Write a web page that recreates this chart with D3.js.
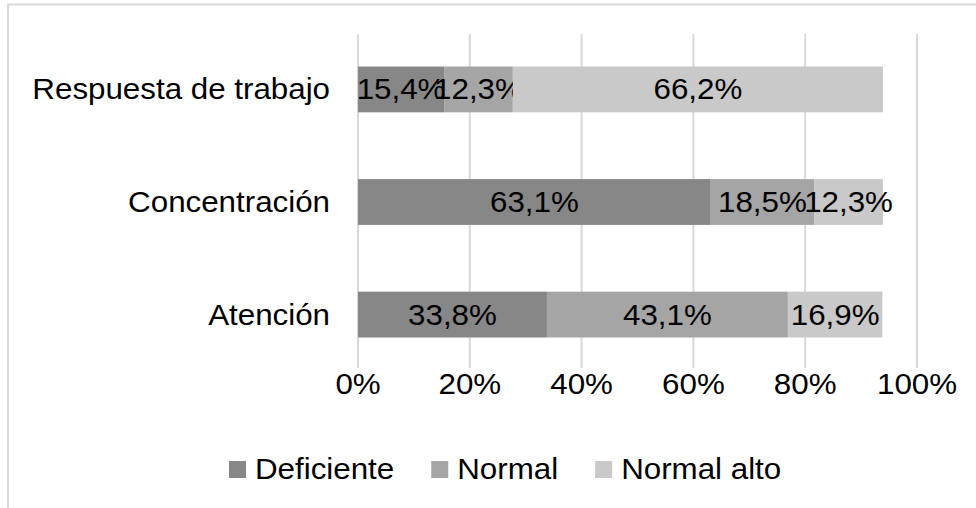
<!DOCTYPE html>
<html>
<head>
<meta charset="utf-8">
<script src="https://cdn.jsdelivr.net/npm/d3@7"></script>
<style>
  body { margin: 0; background: #fff; }
  text { font-family: "Liberation Sans", Arial, sans-serif; fill: #000; font-size: 29px; }
</style>
</head>
<body>
<div id="chart"></div>
<script>
const WIDTH = 976;
const HEIGHT = 508;
const SX = 1.08; // the original text is a bit wider than Arial

const categories = ['Respuesta de trabajo', 'Concentración', 'Atención'];
const series = ['Deficiente', 'Normal', 'Normal alto'];
const deficiente = [15.4, 63.1, 33.8];
const normal = [12.3, 18.5, 43.1];
const normalAlto = [66.2, 12.3, 16.9];
const ticks = [0, 20, 40, 60, 80, 100];
const colors = ['#878787', '#a5a5a5', '#c9c9c9'];

const rows = categories.map((c, i) => ({
  cat: c, 'Deficiente': deficiente[i], 'Normal': normal[i], 'Normal alto': normalAlto[i]
}));

const svg = d3.select('#chart').append('svg')
  .attr('width', WIDTH)
  .attr('height', HEIGHT);

// chart border (top + left only visible)
svg.append('path')
  .attr('d', `M8,${HEIGHT} L8,4.5 L${WIDTH},4.5`)
  .attr('fill', 'none')
  .attr('stroke', '#d9d9d9')
  .attr('stroke-width', 2);

const xscale = d3.scaleLinear().domain([0, 100]).range([358, 917]);
const yscale = d3.scaleBand().domain(categories).range([35, 369])
  .paddingInner(0.593).paddingOuter(0.28);

const place = (x, y) => `translate(${x},${y}) scale(${SX},1)`;

// gridlines
svg.append('g').selectAll('line')
  .data(ticks)
  .enter().append('line')
  .attr('x1', d => xscale(d)).attr('x2', d => xscale(d))
  .attr('y1', 34).attr('y2', 368)
  .attr('stroke', '#d9d9d9')
  .attr('stroke-width', 2);

const stacked = d3.stack().keys(series)(rows);

const layers = svg.append('g').selectAll('g')
  .data(stacked)
  .enter().append('g')
  .attr('fill', (d, i) => colors[i]);

layers.selectAll('rect')
  .data(d => d)
  .enter().append('rect')
  .attr('x', d => xscale(d[0]))
  .attr('width', d => xscale(d[1]) - xscale(d[0]))
  .attr('y', d => yscale(d.data.cat))
  .attr('height', yscale.bandwidth());

const fmt = v => d3.format('.1f')(v).replace('.', ',') + '%';

layers.selectAll('text')
  .data(d => d)
  .enter().append('text')
  .attr('transform', d => place((xscale(d[0]) + xscale(d[1])) / 2,
                                yscale(d.data.cat) + yscale.bandwidth() / 2 + 10))
  .attr('text-anchor', 'middle')
  .text(d => fmt(d[1] - d[0]));

// category labels
svg.append('g').selectAll('text')
  .data(categories)
  .enter().append('text')
  .attr('transform', d => place(330, yscale(d) + yscale.bandwidth() / 2 + 10))
  .attr('text-anchor', 'end')
  .text(d => d);

// x tick labels
svg.append('g').selectAll('text')
  .data(ticks)
  .enter().append('text')
  .attr('transform', d => place(xscale(d), 394))
  .attr('text-anchor', 'middle')
  .text(d => d + '%');

// legend
const legend = svg.append('g').attr('class', 'legend');
let lx = 229;
series.forEach((s, i) => {
  legend.append('rect')
    .attr('x', lx).attr('y', 461)
    .attr('width', 17).attr('height', 17)
    .attr('fill', colors[i]);
  const t = legend.append('text')
    .attr('transform', place(lx + 26, 479))
    .text(s);
  lx += 26 + t.node().getComputedTextLength() * SX + 37;
});
</script>
</body>
</html>
